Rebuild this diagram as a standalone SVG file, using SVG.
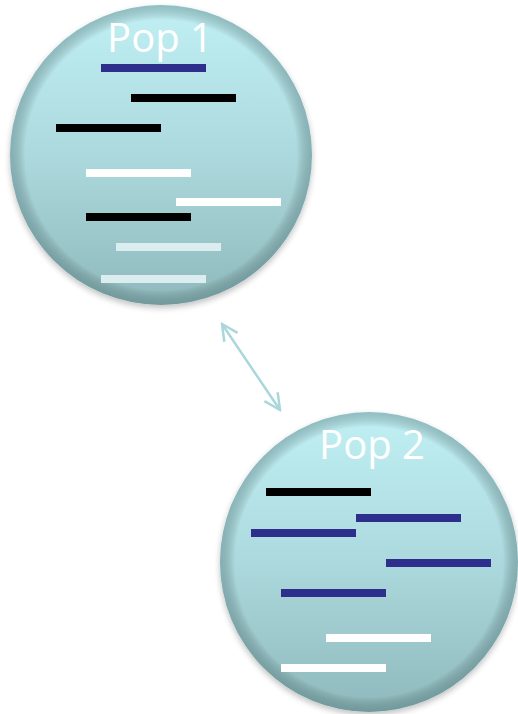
<svg xmlns="http://www.w3.org/2000/svg" width="518" height="714" viewBox="0 0 518 714">
<defs>
<linearGradient id="g" x1="0" y1="0" x2="0" y2="1">
<stop offset="0" stop-color="#c0f0f4"/>
<stop offset="0.5" stop-color="#acd9dd"/>
<stop offset="1" stop-color="#8fb9bc"/>
</linearGradient>
<radialGradient id="rim" cx="0.5" cy="0.5" r="0.5">
<stop offset="0.9" stop-color="#000" stop-opacity="0"/>
<stop offset="1" stop-color="#3a6266" stop-opacity="0.35"/>
</radialGradient>
<filter id="sh" x="-10%" y="-10%" width="120%" height="120%">
<feGaussianBlur in="SourceAlpha" stdDeviation="3"/>
<feOffset dx="0" dy="3" result="b"/>
<feComponentTransfer><feFuncA type="linear" slope="0.25"/></feComponentTransfer>
<feMerge><feMergeNode/><feMergeNode in="SourceGraphic"/></feMerge>
</filter>
<marker id="ah" viewBox="0 0 20 20" refX="18" refY="10" markerWidth="20" markerHeight="20" markerUnits="userSpaceOnUse" orient="auto-start-reverse">
<path d="M2,2 L18,10 L2,18" fill="none" stroke="#a9d7db" stroke-width="2.5"/>
</marker>
<style>
.disc{fill:url(#g);filter:url(#sh)}
.rim{fill:url(#rim)}
.lbl{font-family:"Open Sans","Liberation Sans",sans-serif;font-size:40px;fill:#ffffff;text-anchor:middle}
.navy{fill:#2e2e8c}
.blk{fill:#000000}
.wht{fill:#ffffff}
.lt{fill:#dcedef}
</style>
</defs>
<g id="pop1">
<ellipse class="disc" cx="161" cy="155" rx="151" ry="150"/>
<ellipse class="rim" cx="161" cy="155" rx="151" ry="150"/>
<text class="lbl" x="160" y="52">Pop 1</text>
<rect class="navy" x="101" y="64" width="105" height="8"/>
<rect class="blk" x="131" y="94" width="105" height="8"/>
<rect class="blk" x="56" y="124" width="105" height="8"/>
<rect class="wht" x="86" y="169" width="105" height="8"/>
<rect class="wht" x="176" y="198" width="105" height="8"/>
<rect class="blk" x="86" y="213" width="105" height="8"/>
<rect class="lt" x="116" y="243" width="105" height="8"/>
<rect class="lt" x="101" y="275" width="105" height="8"/>
</g>
<g id="pop2">
<ellipse class="disc" cx="369" cy="562" rx="149" ry="150"/>
<ellipse class="rim" cx="369" cy="562" rx="149" ry="150"/>
<text class="lbl" x="372" y="459">Pop 2</text>
<rect class="blk" x="266" y="488" width="105" height="8"/>
<rect class="navy" x="356" y="514" width="105" height="8"/>
<rect class="navy" x="251" y="529" width="105" height="8"/>
<rect class="navy" x="386" y="559" width="105" height="8"/>
<rect class="navy" x="281" y="589" width="105" height="8"/>
<rect class="wht" x="326" y="634" width="105" height="8"/>
<rect class="wht" x="281" y="664" width="105" height="8"/>
</g>
<g id="connectors">
<line x1="222" y1="324" x2="280" y2="410" stroke="#a9d7db" stroke-width="2.5" marker-start="url(#ah)" marker-end="url(#ah)"/>
</g>
</svg>
